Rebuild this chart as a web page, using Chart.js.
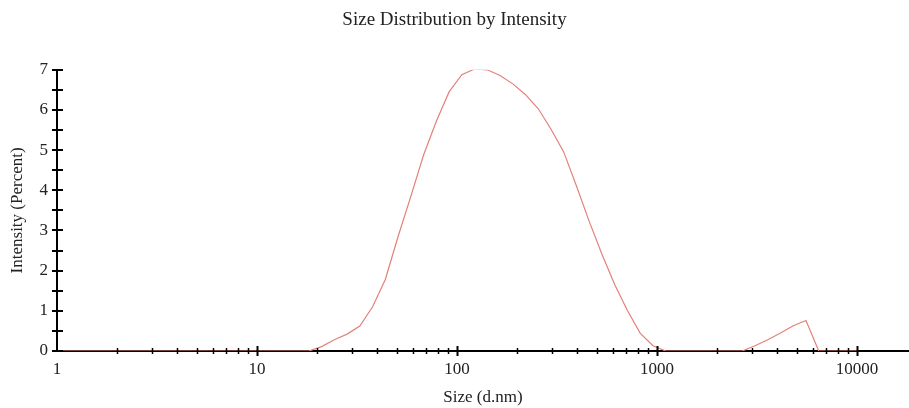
<!DOCTYPE html>
<html>
<head>
<meta charset="utf-8">
<script src="https://cdn.jsdelivr.net/npm/chart.js@4"></script>
<style>
  html, body { margin: 0; padding: 0; background: #ffffff; }
  #wrap { width: 909px; height: 408px; }
</style>
</head>
<body>
<div id="wrap"><canvas id="c" width="909" height="408"></canvas></div>
<script>
// Size bins (d.nm)
const sizes = [0.9649, 1.117, 1.294, 1.499, 1.736, 2.01, 2.328, 2.696, 3.122, 3.615, 4.187, 4.849,
  5.615, 6.503, 7.531, 8.721, 10.1, 11.7, 13.54, 15.69, 18.17, 21.04, 24.36, 28.21, 32.67, 37.84,
  43.82, 50.75, 58.77, 68.06, 78.82, 91.28, 105.7, 122.4, 141.8, 164.2, 190.1, 220.2, 255.0, 295.3,
  342.0, 396.1, 458.7, 531.2, 615.1, 712.4, 825.0, 955.4, 1106, 1281, 1484, 1718, 1990, 2305, 2669,
  3091, 3580, 4145, 4801, 5560, 6439, 7456, 8635, 10000];
// Intensity (Percent)
const intensity = [0, 0, 0, 0, 0, 0, 0, 0, 0, 0, 0, 0,
  0, 0, 0, 0, 0, 0, 0, 0, 0, 0.11, 0.28, 0.42, 0.62, 1.1,
  1.78, 2.85, 3.85, 4.88, 5.72, 6.45, 6.88, 7.02, 7.0, 6.86, 6.65, 6.38, 6.03, 5.52,
  4.95, 4.1, 3.22, 2.4, 1.65, 1.0, 0.44, 0.13, 0, 0, 0, 0, 0, 0, 0,
  0.13, 0.28, 0.45, 0.63, 0.76, 0, 0, 0, 0];
const xTickValues = [1,2,3,4,5,6,7,8,9,10,20,30,40,50,60,70,80,90,100,200,300,400,500,600,700,800,900,
  1000,2000,3000,4000,5000,6000,7000,8000,9000,10000];
const xLabels = [1, 10, 100, 1000, 10000];
const yLabels = [0, 1, 2, 3, 4, 5, 6, 7];

const points = sizes.map((s, i) => ({ x: s, y: intensity[i] }));
const FONT = 'Liberation Serif, Times New Roman, serif';

const crossTicks = {
  id: 'crossTicks',
  afterDraw(chart) {
    const ctx = chart.ctx;
    const xs = chart.scales.x, ys = chart.scales.y;
    const axisY = ys.getPixelForValue(0);
    const axisX = xs.left;
    ctx.save();
    ctx.strokeStyle = '#000';
    xs.ticks.forEach(t => {
      if (t.value === 1) return;
      const px = Math.round(xs.getPixelForValue(t.value)) + 0.5;
      const major = xLabels.includes(t.value);
      ctx.lineWidth = major ? 2 : 1.5;
      const h = major ? 5 : 3;
      ctx.beginPath();
      ctx.moveTo(px, axisY - h);
      ctx.lineTo(px, axisY + h);
      ctx.stroke();
    });
    ys.ticks.forEach(t => {
      const py = Math.round(ys.getPixelForValue(t.value));
      ctx.lineWidth = 2;
      ctx.beginPath();
      ctx.moveTo(axisX - 5, py);
      ctx.lineTo(axisX + 6, py);
      ctx.stroke();
    });
    ctx.restore();
  }
};

new Chart(document.getElementById('c'), {
  type: 'line',
  data: {
    datasets: [{
      data: points,
      borderColor: 'rgb(228,128,122)',
      borderWidth: 1.2,
      pointRadius: 0,
      tension: 0,
      fill: false
    }]
  },
  options: {
    responsive: false,
    animation: false,
    layout: { padding: 0 },
    plugins: {
      legend: { display: false },
      tooltip: { enabled: false },
      title: {
        display: true,
        text: 'Size Distribution by Intensity',
        color: '#222',
        font: { family: FONT, size: 19, weight: 'normal' },
        padding: { top: 9, bottom: 38 }
      }
    },
    scales: {
      x: {
        type: 'logarithmic',
        min: 1,
        max: 18200,
        afterBuildTicks: (scale) => { scale.ticks = xTickValues.map(v => ({ value: v })); },
        afterFit: (scale) => { scale.height = 57; },
        grid: { display: false, drawTicks: false },
        border: { display: true, color: '#000', width: 2 },
        ticks: {
          autoSkip: false,
          maxRotation: 0,
          padding: 8,
          color: '#222',
          font: { family: FONT, size: 17 },
          callback: (v) => xLabels.includes(v) ? String(v) : ''
        },
        title: {
          display: true,
          text: 'Size (d.nm)',
          color: '#222',
          font: { family: FONT, size: 17 },
          padding: { top: 0, bottom: 0 }
        }
      },
      y: {
        min: 0,
        max: 7,
        afterFit: (scale) => { scale.width = 57; },
        grid: { display: false, drawTicks: false },
        border: { display: true, color: '#000', width: 2 },
        ticks: {
          stepSize: 0.5,
          autoSkip: false,
          padding: 9,
          color: '#222',
          font: { family: FONT, size: 17 },
          callback: (v) => yLabels.includes(v) ? String(v) : ''
        },
        title: {
          display: true,
          text: 'Intensity (Percent)',
          color: '#222',
          font: { family: FONT, size: 17 },
          padding: { top: 7, bottom: 0 }
        }
      }
    }
  },
  plugins: [crossTicks]
});
</script>
</body>
</html>
